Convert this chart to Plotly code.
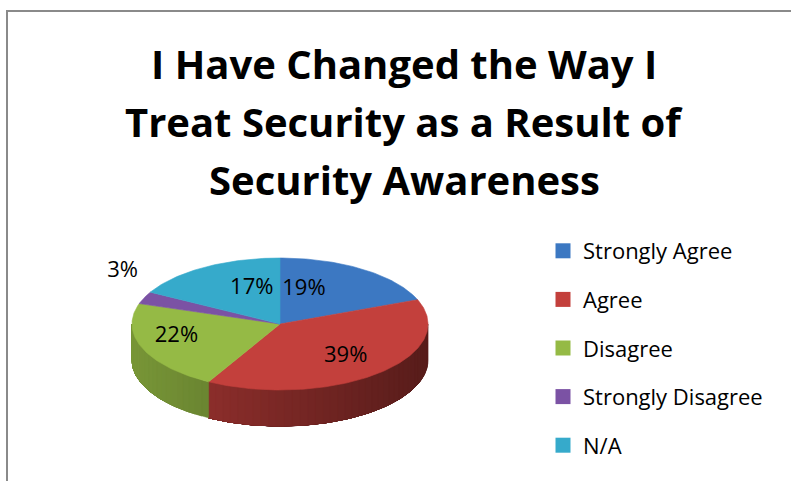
import numpy as np
import plotly.graph_objects as go

# Survey answers and their shares (percent)
categories = ["Strongly Agree", "Agree", "Disagree", "Strongly Disagree", "N/A"]
shares = [19, 39, 22, 3, 17]
colors = ["#3C78C2", "#C3403C", "#95BA45", "#7B52A4", "#36AACB"]
title_lines = ["I Have Changed the Way I",
               "Treat Security as a Result of",
               "Security Awareness"]

# Geometry of the tilted pie, in pixel units of the hidden axes
CX, CY, RX, RY, DEPTH = 280, 324, 148, 66, 36
FONT = "Open Sans"

# Title line centres (pixels from top)
TITLE_X, TITLE_Y0, TITLE_STEP = 404, 63, 58

# Label placement: radial fraction of the mid-angle point, then a small nudge
label_radius = [0.6, 0.6, 0.6, 1.35, 0.6]
label_nudge = [(-26, -2), (7, 3), (-21, -2), (26, -17), (17, -1)]


def rim(theta_deg, drop=0.0, frac=1.0):
    t = np.radians(theta_deg)
    return CX + frac * RX * np.sin(t), CY - frac * RY * np.cos(t) + drop


def shade(hexc, f):
    h = hexc.lstrip("#")
    r, g, b = (int(h[i:i + 2], 16) for i in (0, 2, 4))
    return "rgb(%d,%d,%d)" % (r * f, g * f, b * f)


total = float(sum(shares))
bounds = np.concatenate([[0.0], np.cumsum(shares)]) / total * 360.0

fig = go.Figure()

# Legend entries (square swatches)
for cat, col in zip(categories, colors):
    fig.add_trace(go.Scatter(
        x=[None], y=[None], mode="markers", name=cat, legendgroup=cat,
        marker=dict(symbol="square", size=15, color=col), hoverinfo="skip"))

# Front wall of the pie: only the arc between 90 and 270 degrees faces the viewer.
# Each band runs to the end of the slice so later bands overlap earlier ones
# and no seams show between them.
for i, col in enumerate(colors):
    a, b = max(bounds[i], 90.0), min(bounds[i + 1], 270.0)
    if a >= b:
        continue
    n = max(2, int((b - a) / 3))
    edges = np.linspace(a, b, n + 1)
    for k in range(n):
        th = np.linspace(edges[k], b, max(4, int(b - edges[k]) + 2))
        xt, yt = rim(th)
        xb, yb = rim(th[::-1], drop=DEPTH)
        xm = float(np.mean(rim(np.array([edges[k], edges[k + 1]]))[0]))
        f = 0.45 + 0.36 * (CX + RX - xm) / (2 * RX)
        c = shade(col, f)
        fig.add_trace(go.Scatter(
            x=np.concatenate([xt, xb, xt[:1]]), y=np.concatenate([yt, yb, yt[:1]]),
            mode="lines", fill="toself", fillcolor=c,
            line=dict(color=c, width=0.5), showlegend=False, hoverinfo="skip"))

# Top faces of the slices
for i, (cat, col) in enumerate(zip(categories, colors)):
    th = np.linspace(bounds[i], bounds[i + 1], max(3, int(bounds[i + 1] - bounds[i]) + 2))
    xs, ys = rim(th)
    fig.add_trace(go.Scatter(
        x=np.concatenate([[CX], xs, [CX]]), y=np.concatenate([[CY], ys, [CY]]),
        mode="lines", fill="toself", fillcolor=col,
        line=dict(color=col, width=0.6), showlegend=False,
        name=cat, hoverinfo="name"))

# Percentage labels
lx, ly = [], []
for i in range(len(shares)):
    mid = (bounds[i] + bounds[i + 1]) / 2
    x, y = rim(mid, frac=label_radius[i])
    lx.append(x + label_nudge[i][0])
    ly.append(y + label_nudge[i][1])
fig.add_trace(go.Scatter(
    x=lx, y=ly, mode="text", text=[f"{v}%" for v in shares],
    textposition="middle center", textfont=dict(family=FONT, size=22, color="#000"),
    showlegend=False, hoverinfo="skip"))

# Chart title, one line per annotation for wider line spacing
for j, line in enumerate(title_lines):
    fig.add_annotation(
        x=TITLE_X, y=TITLE_Y0 + j * TITLE_STEP, xref="x", yref="y",
        text="<b>%s</b>" % line, showarrow=False,
        xanchor="center", yanchor="middle",
        font=dict(family=FONT, size=40, color="#000"))

# Chart frame (top and left edges)
fig.add_shape(type="path", path="M 7 481 L 7 11 L 791 11",
              line=dict(color="#8A8A8A", width=2), xref="x", yref="y")

fig.update_layout(
    width=791, height=481,
    margin=dict(l=0, r=0, t=0, b=0),
    paper_bgcolor="white", plot_bgcolor="white",
    xaxis=dict(range=[0, 791], visible=False, fixedrange=True),
    yaxis=dict(range=[481, 0], visible=False, fixedrange=True),
    legend=dict(x=543 / 791, y=1 - 230 / 481, xanchor="left", yanchor="top",
                font=dict(family=FONT, size=22, color="#000"),
                traceorder="grouped", tracegroupgap=17, itemsizing="trace",
                bgcolor="rgba(0,0,0,0)"),
    showlegend=True,
)

fig.write_html("out.html")
